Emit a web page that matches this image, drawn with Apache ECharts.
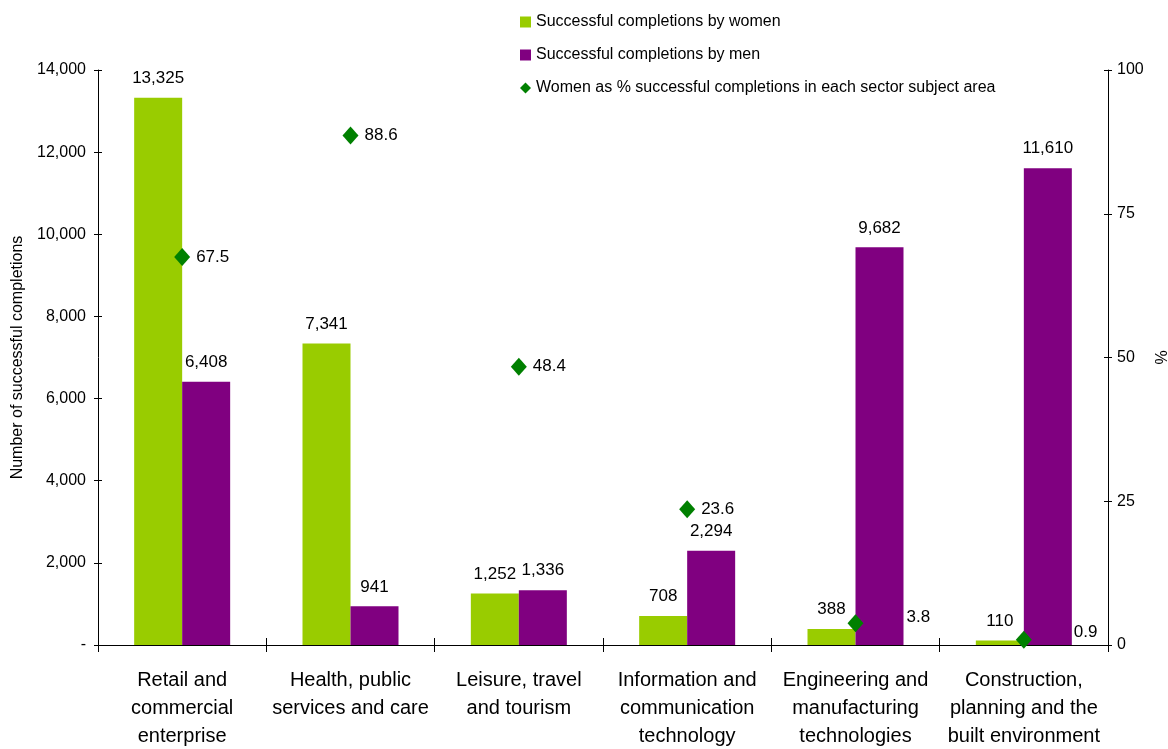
<!DOCTYPE html>
<html>
<head>
<meta charset="utf-8">
<script src="https://cdn.jsdelivr.net/npm/echarts@6/dist/echarts.min.js"></script>
<style>
html,body{margin:0;padding:0;background:#fff;}
#chart{width:1168px;height:749px;}
</style>
</head>
<body>
<div id="chart"></div>
<script>
const categories = [
  "Retail and\ncommercial\nenterprise",
  "Health, public\nservices and care",
  "Leisure, travel\nand tourism",
  "Information and\ncommunication\ntechnology",
  "Engineering and\nmanufacturing\ntechnologies",
  "Construction,\nplanning and the\nbuilt environment"
];
const women = [13325, 7341, 1252, 708, 388, 110];
const men = [6408, 941, 1336, 2294, 9682, 11610];
const womenPct = [67.5, 88.6, 48.4, 23.6, 3.8, 0.9];

// label placement tweaks (style only)
const pctLabelOffset = { 4: [37, -6], 5: [36, -8] };

const FONT = "'Liberation Sans', Arial, sans-serif";
const chart = echarts.init(document.getElementById('chart'));
const fmt = v => v === 0 ? '-' : v.toLocaleString('en-US');

const pctData = womenPct.map((v, i) => pctLabelOffset[i]
  ? { value: v, label: { offset: pctLabelOffset[i] } }
  : v);

const lineStyle = { color: '#000', width: 1 };

chart.setOption({
  animation: false,
  textStyle: { fontFamily: FONT, color: '#000' },
  legend: {
    orient: 'vertical',
    left: 515,
    top: 9,
    itemWidth: 11,
    itemHeight: 11,
    itemGap: 17,
    textStyle: { fontSize: 16, color: '#000', fontFamily: FONT },
    data: [
      { name: 'Successful completions by women', icon: 'rect' },
      { name: 'Successful completions by men', icon: 'rect' },
      { name: 'Women as % successful completions in each sector subject area', icon: 'diamond', itemStyle: { color: '#008000' } }
    ]
  },
  grid: { left: 98, right: 60, top: 70, bottom: 104, outerBoundsMode: 'none', containLabel: false },
  xAxis: [
    {
      type: 'category',
      data: categories,
      axisLine: { lineStyle },
      axisTick: { show: true, length: 7, lineStyle },
      axisLabel: { fontSize: 20, color: '#000', lineHeight: 28, margin: 21, interval: 0, fontFamily: FONT }
    },
    {
      type: 'category',
      data: categories,
      position: 'bottom',
      offset: 0,
      axisLine: { show: false },
      axisTick: { show: true, inside: true, length: 7, lineStyle },
      axisLabel: { show: false }
    }
  ],
  yAxis: [
    {
      type: 'value', min: 0, max: 14000, interval: 2000,
      position: 'left',
      name: 'Number of successful completions',
      nameLocation: 'middle', nameGap: 72, nameRotate: 90,
      nameTextStyle: { fontSize: 16, color: '#000', fontFamily: FONT },
      axisLine: { show: true, lineStyle },
      axisTick: { show: true, length: 4, lineStyle },
      axisLabel: { fontSize: 16, color: '#000', margin: 12, formatter: fmt, fontFamily: FONT },
      splitLine: { show: false }
    },
    {
      type: 'value', min: 0, max: 100, interval: 25,
      position: 'right',
      name: '%',
      nameLocation: 'middle', nameGap: 42, nameRotate: 90,
      nameTextStyle: { fontSize: 16, color: '#000', fontFamily: FONT },
      axisLine: { show: true, lineStyle },
      axisTick: { show: true, length: 4, lineStyle },
      axisLabel: { fontSize: 16, color: '#000', margin: 9, fontFamily: FONT },
      splitLine: { show: false }
    },
    {
      type: 'value', min: 0, max: 14000, interval: 2000,
      position: 'left', offset: 0,
      axisLine: { show: false },
      axisTick: { show: true, inside: true, length: 4, lineStyle },
      axisLabel: { show: false },
      splitLine: { show: false }
    },
    {
      type: 'value', min: 0, max: 100, interval: 25,
      position: 'right', offset: 0,
      axisLine: { show: false },
      axisTick: { show: true, inside: true, length: 4, lineStyle },
      axisLabel: { show: false },
      splitLine: { show: false }
    }
  ],
  series: [
    {
      name: 'Successful completions by women',
      type: 'bar',
      data: women,
      barWidth: 48,
      barGap: '0%',
      itemStyle: { color: '#99CC00' },
      label: { show: true, position: 'top', distance: 11, fontSize: 17, color: '#000', fontFamily: FONT,
               formatter: p => p.value.toLocaleString('en-US') }
    },
    {
      name: 'Successful completions by men',
      type: 'bar',
      data: men,
      barWidth: 48,
      barGap: '0%',
      itemStyle: { color: '#800080' },
      label: { show: true, position: 'top', distance: 11, fontSize: 17, color: '#000', fontFamily: FONT,
               formatter: p => p.value.toLocaleString('en-US') }
    },
    {
      name: 'Women as % successful completions in each sector subject area',
      type: 'scatter',
      yAxisIndex: 1,
      data: pctData,
      symbol: 'diamond',
      symbolSize: [16, 18],
      z: 5,
      itemStyle: { color: '#008000', opacity: 1 },
      label: { show: true, position: 'right', distance: 6, fontSize: 17, color: '#000', fontFamily: FONT,
               formatter: p => p.value.toFixed(1) }
    }
  ]
});
</script>
</body>
</html>
